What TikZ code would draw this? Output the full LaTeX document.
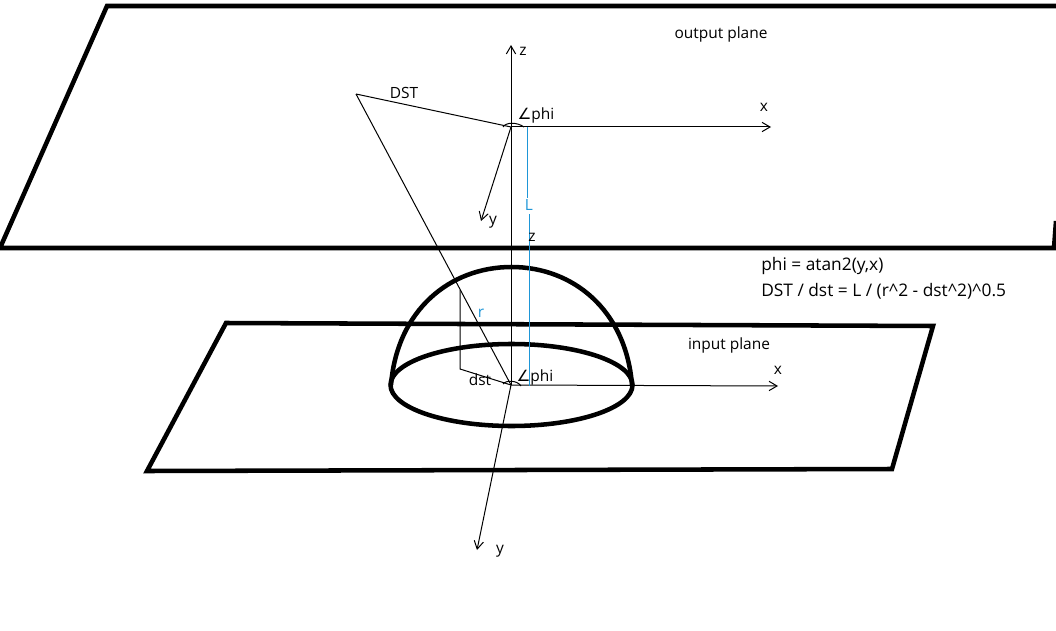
\documentclass[tikz,border=0pt]{standalone}
\usepackage{fontspec}
\setmainfont{Open Sans}
\newfontfamily\symbfont{DejaVu Sans}
\usetikzlibrary{
arrows.meta
}
\definecolor{lenblue}{RGB}{30,150,215}

\newcommand{\anglemark}{{\symbfont\char"2220}}

\begin{document}
\begin{tikzpicture}[
    x=0.75pt, y=-0.75pt,
    >={Straight Barb[angle=60:7pt,length=6pt]},
    thick plane/.style={draw, line width=3.4pt, line join=miter},
    dome/.style={draw, line width=3.4pt},
    axis/.style={draw, ->, line width=0.75pt},
    guide/.style={draw, line width=0.75pt},
    blueline/.style={draw=lenblue, line width=0.75pt},
    tag/.style={font=\fontsize{11.6pt}{13pt}\selectfont, inner sep=0pt},
    eqtag/.style={font=\fontsize{13pt}{14pt}\selectfont, inner sep=0pt, anchor=west},
    bluetag/.style={tag, text=lenblue}]
  \useasboundingbox (0,0) rectangle (1056,631);

  % planes
  \coordinate (outA) at (107,6);
  \coordinate (outB) at (1058,6);
  \coordinate (outC) at (1054,248);
  \coordinate (outD) at (0,248);
  \coordinate (outE) at (1056,221);
  \coordinate (inA) at (226,323);
  \coordinate (inB) at (933,326);
  \coordinate (inC) at (892,469);
  \coordinate (inD) at (147,471);
  \draw[thick plane] (outB) -- (outA) -- (outD) -- (outC) -- (outE);
  \draw[thick plane] (inA) -- (inB) -- (inC) -- (inD) -- cycle;

  % hemisphere
  \coordinate (domeL) at (391,385);
  \coordinate (domeR) at (632,385);
  \coordinate (domeC) at (511.5,385);
  \draw[dome] (domeC) ellipse [x radius=121, y radius=41];
  \draw[dome] (domeL) .. controls (397,310) and (450,267) .. (511.5,267)
    .. controls (573,267) and (626,310) .. (domeR);

  % output plane axes
  \coordinate (topO) at (511,127);
  \coordinate (topZ) at (511,45);
  \coordinate (topX) at (771,127);
  \coordinate (topY) at (481,221);
  \coordinate (farP) at (356,94);
  \coordinate (lowO) at (511,385);
  \coordinate (lowX) at (778,386);
  \coordinate (lowY) at (477,550);
  \draw[axis] (topO) -- (topZ);
  \draw[axis] (topO) -- (topX);
  \draw[axis] (topO) -- (topY);
  \draw[guide] (farP) -- (topO);
  \draw[guide] (topO) -- (lowO);
  \draw[guide] (farP) -- (lowO);
  \draw[axis] (lowO) -- (lowX);
  \draw[axis] (lowO) -- (lowY);

  % dst and height on the dome
  \coordinate (rimP) at (460,290);
  \coordinate (footP) at (460,369);
  \draw[guide] (rimP) -- (footP) -- (lowO);

  % angle marks
  \coordinate (arcTL) at (503,127);
  \coordinate (arcTR) at (524,127);
  \coordinate (arcLL) at (503,384);
  \coordinate (arcLR) at (521,386);
  \draw[guide] (arcTL) .. controls (506,122) and (517,122) .. (arcTR);
  \draw[guide] (arcLL) .. controls (506,380) and (517,380) .. (arcLR);

  % length L
  \coordinate (blueA) at (527,127);
  \coordinate (blueB) at (527,198);
  \coordinate (blueC) at (529,214);
  \coordinate (blueD) at (529,386);
  \draw[blueline] (blueA) -- (blueB);
  \draw[blueline] (blueC) -- (blueD);

  % labels
  \node[tag] (outlabel) at (721,34) {output plane};
  \node[tag] (inlabel) at (729,345) {input plane};
  \node[tag] (topzlabel) at (523,51) {z};
  \node[tag] (topxlabel) at (764,107) {x};
  \node[tag] (topylabel) at (493,222) {y};
  \node[tag] (dstbig) at (404,93) {DST};
  \node[tag] (topphi) at (536,115) {\anglemark phi};
  \node[bluetag] (llabel) at (529,205) {L};
  \node[tag] (midz) at (532,237) {z};
  \node[bluetag] (rlabel) at (481,313) {r};
  \node[tag] (lowxlabel) at (778,370) {x};
  \node[tag] (lowylabel) at (500,551) {y};
  \node[tag] (dstsmall) at (480,380) {dst};
  \node[tag] (lowphi) at (535,377) {\anglemark phi};
  \node[eqtag] (eqphi) at (761,266) {phi = atan2(y,x)};
  \node[eqtag] (eqdst) at (761,291) {DST / dst = L / (r\char`\^2 - dst\char`\^2)\char`\^0.5};
\end{tikzpicture}
\end{document}
